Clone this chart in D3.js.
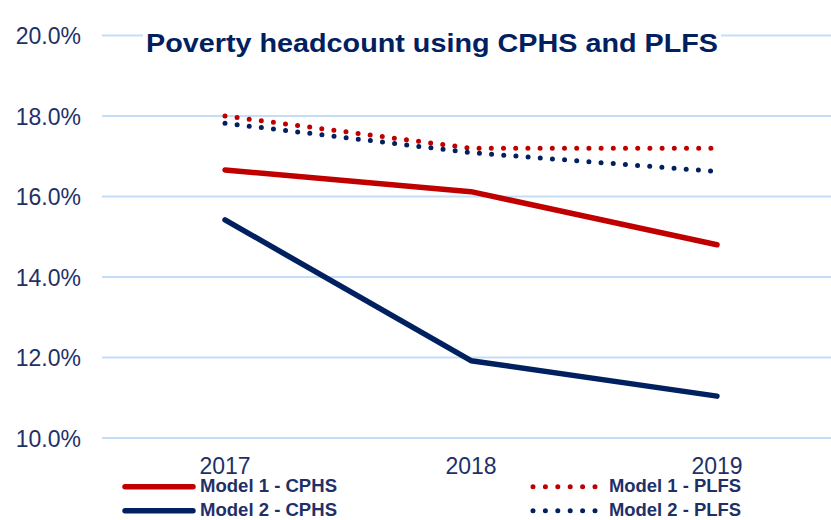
<!DOCTYPE html>
<html>
<head>
<meta charset="utf-8">
<script src="https://cdn.jsdelivr.net/npm/d3@7"></script>
<style>
  html, body { margin: 0; padding: 0; background: #fff; }
  svg { display: block; font-family: "Liberation Sans", Arial, sans-serif; }
</style>
</head>
<body>
<svg id="chart" width="831" height="520"></svg>
<script>
// Poverty headcount (%) by survey year
const years = ["2017", "2018", "2019"];
const model1CPHS = [16.66, 16.12, 14.80];
const model2CPHS = [15.42, 11.92, 11.04];
const model1PLFS = [18.00, 17.20, 17.20];
const model2PLFS = [17.82, 17.09, 16.62];
const yTicks = [10, 12, 14, 16, 18, 20];
const titleText = "Poverty headcount using CPHS and PLFS";

const series = [
  { name: "Model 1 - CPHS", values: model1CPHS, color: "#C00000", dotted: false },
  { name: "Model 2 - CPHS", values: model2CPHS, color: "#002060", dotted: false },
  { name: "Model 1 - PLFS", values: model1PLFS, color: "#C00000", dotted: true },
  { name: "Model 2 - PLFS", values: model2PLFS, color: "#002060", dotted: true }
];

const svg = d3.select("#chart");
const textColor = "#1F3068";

const x = d3.scaleBand().domain(years).range([102, 840]);
const y = d3.scaleLinear().domain([10, 20]).range([438, 35.5]);

// horizontal gridlines
svg.append("g")
  .selectAll("line")
  .data(yTicks)
  .join("line")
  .attr("x1", 102).attr("x2", 840)
  .attr("y1", d => y(d)).attr("y2", d => y(d))
  .attr("stroke", "#C5DEF7")
  .attr("stroke-width", 2);

// y axis labels
const yAxis = d3.axisLeft(y).tickValues(yTicks).tickFormat(d => d.toFixed(1) + "%").tickSize(0).tickPadding(0);
const yg = svg.append("g").attr("transform", "translate(81,0)").call(yAxis);
yg.select(".domain").remove();
yg.selectAll("text")
  .attr("font-size", 23)
  .attr("fill", textColor)
  .attr("font-family", "Liberation Sans, Arial, sans-serif")
  .attr("dy", "0.36em");

// x axis labels
const xAxis = d3.axisBottom(x).tickSize(0).tickPadding(0);
const xg = svg.append("g").attr("transform", "translate(0,473.5)").call(xAxis);
xg.select(".domain").remove();
xg.selectAll("text")
  .attr("y", 0)
  .attr("dy", 0)
  .attr("font-size", 23)
  .attr("fill", textColor)
  .attr("font-family", "Liberation Sans, Arial, sans-serif");

// title on a white backing
const title = svg.append("g");
const tBox = title.append("rect").attr("fill", "#fff");
const tText = title.append("text")
  .attr("x", 146).attr("y", 52)
  .attr("font-size", 26.5)
  .attr("font-weight", "bold")
  .attr("fill", "#002060")
  .attr("textLength", 572)
  .attr("lengthAdjust", "spacingAndGlyphs")
  .text(titleText);
const bb = tText.node().getBBox();
tBox.attr("x", bb.x - 3).attr("y", bb.y).attr("width", bb.width + 6).attr("height", bb.height);

// series lines
const line = d3.line()
  .x((d, i) => x(years[i]) + x.bandwidth() / 2)
  .y(d => y(d));

svg.append("g")
  .selectAll("path")
  .data(series)
  .join("path")
  .attr("d", d => line(d.values))
  .attr("fill", "none")
  .attr("stroke", d => d.color)
  .attr("stroke-width", d => d.dotted ? 5 : 5.5)
  .attr("stroke-linecap", "round")
  .attr("stroke-linejoin", "round")
  .attr("stroke-dasharray", d => d.dotted ? "0,12.2" : null);

// legend
const legendPos = [
  { lx: 125, ly: 486.7, tx: 75, tw: 137 },
  { lx: 125, ly: 510.7, tx: 75, tw: 137 },
  { lx: 533, ly: 486.7, tx: 76, tw: 132 },
  { lx: 533, ly: 510.7, tx: 76, tw: 132 }
];
const lg = svg.append("g")
  .selectAll("g")
  .data(series)
  .join("g")
  .attr("transform", (d, i) => `translate(${legendPos[i].lx},${legendPos[i].ly})`);

lg.append("line")
  .attr("x1", 0).attr("x2", d => d.dotted ? 62 : 68)
  .attr("y1", 0).attr("y2", 0)
  .attr("stroke", d => d.color)
  .attr("stroke-width", d => d.dotted ? 5 : 5.5)
  .attr("stroke-linecap", "round")
  .attr("stroke-dasharray", d => d.dotted ? "0,12.4" : null);

lg.append("text")
  .attr("x", (d, i) => legendPos[i].tx)
  .attr("y", 5)
  .attr("font-size", 17.5)
  .attr("font-weight", "bold")
  .attr("fill", textColor)
  .attr("textLength", (d, i) => legendPos[i].tw)
  .attr("lengthAdjust", "spacingAndGlyphs")
  .text(d => d.name);
</script>
</body>
</html>
